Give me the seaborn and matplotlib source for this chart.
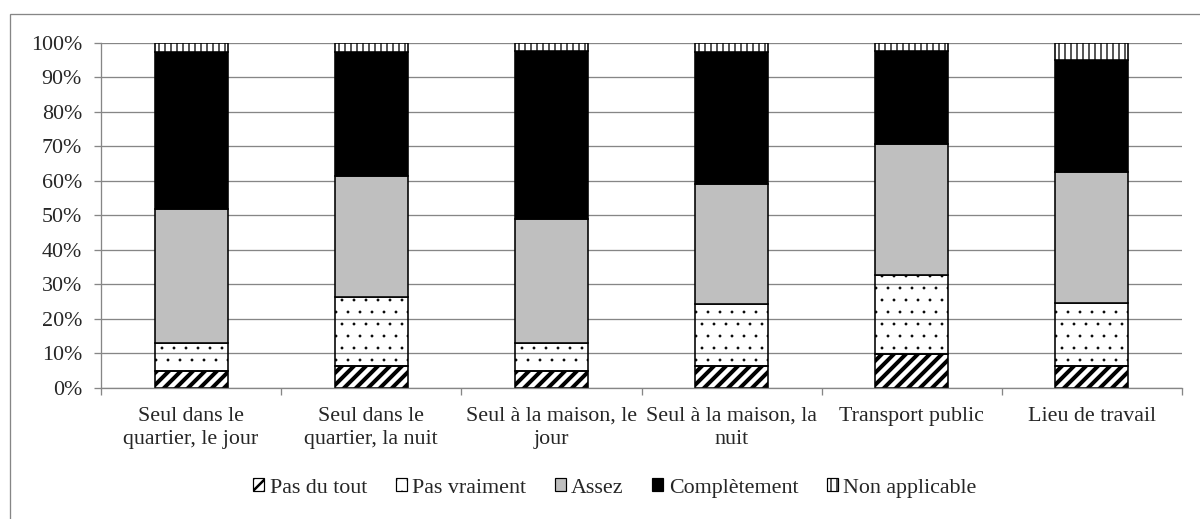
import matplotlib

matplotlib.use("Agg")

import matplotlib.pyplot as plt
import numpy as np
import pandas as pd
import seaborn as sns
from matplotlib.patches import Rectangle
from matplotlib.ticker import FixedLocator, PercentFormatter

# answers in percent
categories = [
    "Seul dans le\nquartier, le jour",
    "Seul dans le\nquartier, la nuit",
    "Seul à la maison, le\njour",
    "Seul à la maison, la\nnuit",
    "Transport public",
    "Lieu de travail",
]
pas_du_tout = [4.9, 6.5, 4.9, 6.5, 9.9, 6.3]
pas_vraiment = [8.2, 19.9, 8.2, 17.8, 22.9, 18.2]
assez = [38.8, 35.0, 35.9, 34.7, 37.9, 38.1]
completement = [45.4, 35.9, 48.5, 38.3, 27.0, 32.5]
non_applicable = [2.7, 2.7, 2.5, 2.7, 2.3, 4.9]

series_names = ["Pas du tout", "Pas vraiment", "Assez", "Complètement", "Non applicable"]
series_values = [pas_du_tout, pas_vraiment, assez, completement, non_applicable]

# face, hatch, hatch linewidth
styles = {
    "Pas du tout": ("white", "//", 4.0),
    "Pas vraiment": ("none", ".", 0.3),
    "Assez": ("#bfbfbf", "", 1.0),
    "Complètement": ("black", "", 1.0),
    "Non applicable": ("white", "||", 1.3),
}

sns.set_style("white")
plt.rcParams["font.family"] = ["Liberation Serif", "DejaVu Serif"]
plt.rcParams["font.size"] = 22

grey = "#868686"

fig = plt.figure(figsize=(1200 / 72, 519 / 72), dpi=72)
ax = fig.add_axes([101 / 1200, 1 - 388 / 519, (1182 - 101) / 1200, (388 - 42.7) / 519])

df = pd.DataFrame({"category": categories})
bottom = np.zeros(len(categories))
handles = []
for name, vals in zip(series_names, series_values):
    face, hatch, hlw = styles[name]
    df["value"] = np.array(vals) / 100
    n_before = len(ax.patches)
    sns.barplot(data=df, x="category", y="value", bottom=bottom, width=0.405,
                color="white", ax=ax)
    for p in ax.patches[n_before:]:
        p.set_facecolor(face)
        p.set_edgecolor("black")
        p.set_linewidth(1.6)
        p.set_hatch(hatch)
        p.set_hatch_linewidth(hlw)
    h = Rectangle((0, 0), 1, 1, facecolor=face if face != "none" else "white",
                  edgecolor="black", linewidth=1.2, hatch=hatch)
    handles.append(h)
    bottom = bottom + df["value"].to_numpy()

ax.set_xlim(-0.5, len(categories) - 0.5)
ax.set_ylim(0, 1)
ax.set_xlabel("")
ax.set_ylabel("")
ax.yaxis.set_major_locator(FixedLocator(np.arange(0, 1.01, 0.1)))
ax.yaxis.set_major_formatter(PercentFormatter(1.0, decimals=0))
ax.yaxis.grid(True, color=grey, linewidth=1.3)
ax.set_axisbelow(True)

ax.xaxis.set_minor_locator(FixedLocator(np.arange(-0.5, len(categories), 1)))
ax.tick_params(axis="x", which="major", length=0, pad=19, labelsize=22)
ax.tick_params(axis="x", which="minor", length=7, width=1.3, color=grey, direction="out")
ax.tick_params(axis="y", length=7, width=1.3, color=grey, direction="out", pad=12, labelsize=22)
ax.tick_params(axis="both", bottom=True, left=True, which="both")
for lbl in ax.get_xticklabels():
    lbl.set_linespacing(1.3)

for side in ("top", "right"):
    ax.spines[side].set_visible(False)
for side in ("left", "bottom"):
    ax.spines[side].set_color(grey)
    ax.spines[side].set_linewidth(1.3)

leg = fig.legend(handles, series_names, loc="center", bbox_to_anchor=(615 / 1200, 1 - 488 / 519),
                 ncol=5, frameon=False, fontsize=22, handlelength=0.5, handleheight=0.5,
                 handletextpad=0.25, columnspacing=1.3, borderpad=0)
for lh, name in zip(leg.legend_handles, series_names):
    lh.set_hatch_linewidth(min(styles[name][2], 2.5))

fig.patches.append(Rectangle((10 / 1200, -0.05), 1.2, 1 - 14 / 519 + 0.05,
                             transform=fig.transFigure, fill=False,
                             edgecolor=grey, linewidth=1.3))

fig.savefig("out.png", dpi=72)
